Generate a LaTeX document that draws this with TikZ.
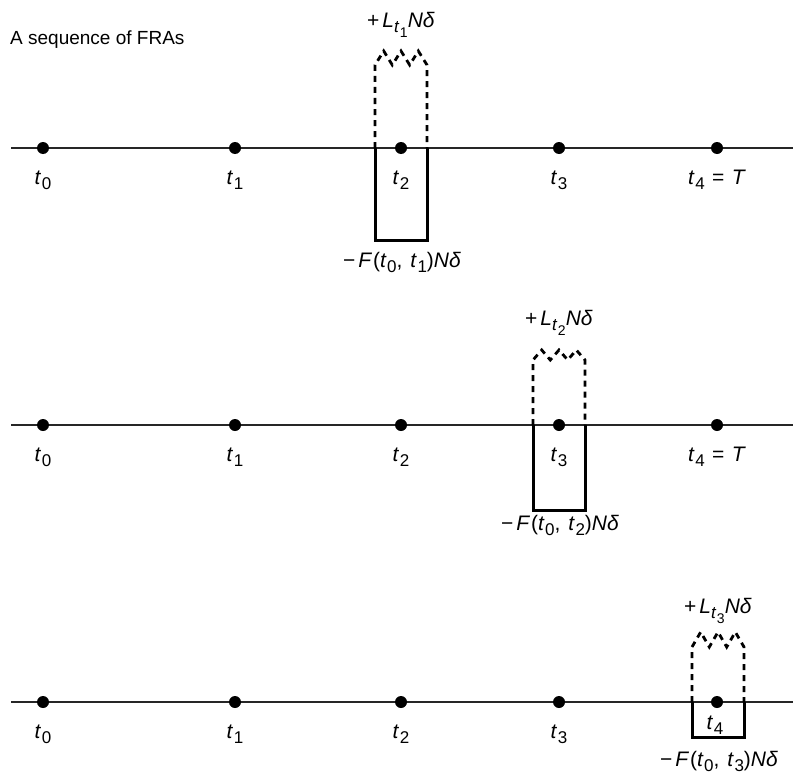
\documentclass[tikz,border=0pt]{standalone}
\usepackage{fontspec}
\setmainfont{Liberation Sans}
\usetikzlibrary{calc}
\newcommand\sub[2][17bp]{\raisebox{-5bp}{\fontsize{#1}{#1}\selectfont #2}}
\newcommand\tv[1]{\textit{t}\kern0.6bp\sub{#1}}
\tikzset{
  axis/.style={line width=1.5bp,black!85},
  dot/.style={circle,fill=black,minimum size=12bp,inner sep=0pt},
  lab/.style={font=\fontsize{21bp}{24bp}\selectfont,inner sep=0pt,anchor=base},
  ttl/.style={font=\fontsize{19bp}{22bp}\selectfont,inner sep=0pt,anchor=base west},
  pay/.style={line width=3bp,line join=miter},
  rec/.style={dash pattern=on 6bp off 5bp,line width=2.8bp},
}
\begin{document}
\begin{tikzpicture}[x=1bp,y=-1bp]
  \useasboundingbox (0,0) rectangle (801,777);
  \node[ttl](title) at (10,45){A sequence of FRAs};
  \foreach \r/\y in {1/148,2/425,3/702}{
    \coordinate(a\r) at (11,\y); \coordinate(b\r) at (793,\y);
    \draw[axis](a\r)--(b\r);
  }
  \foreach \r/\xc/\y/\e/\p/\bot/\lb/\fb in {1/401/148/83/97/240/28/267,2/559/425/65/75/510/325/530,3/718/702/55/70/737/613/766}{
    \draw[rec](\xc-26,\y)--(\xc-26,\y-\e)--(\xc-17.3,\y-\p)--(\xc-8.7,\y-\e)--(\xc,\y-\p)
      --(\xc+8.7,\y-\e)--(\xc+17.3,\y-\p)--(\xc+26,\y-\e)--(\xc+26,\y);
    \draw[pay](\xc-26,\y)--(\xc-26,\bot)--(\xc+26,\bot)--(\xc+26,\y);
    \node[lab](L\r) at (\xc,\lb){+\hspace{3bp}\textit{L}\sub{\textit{t}\kern0.5bp\sub[14bp]{\r}}\textit{N}\textit{δ}};
    \node[lab](F\r) at (\xc+1,\fb){−\hspace{3bp}\textit{F}\kern1bp(\tv{0}, \hspace{2bp}\tv{\r})\textit{N}\textit{δ}};
  }
  \foreach \r/\y in {1/148,2/425,3/702}{
    \foreach \i/\x in {0/43,1/235,2/401,3/559,4/717}
      {\node[dot](d\r\i) at (\x,\y){};}
    \foreach \i/\x in {0/43,1/235,2/401,3/559}
      {\node[lab](l\r\i) at (\x,\y+36){\tv{\i}};}
  }
  \node[lab](l14) at (717,184){\tv{4}\hspace{1.5bp} = \hspace{1.5bp}\textit{T}};
  \node[lab](l24) at (717,461){\tv{4}\hspace{1.5bp} = \hspace{1.5bp}\textit{T}};
  \node[lab](l34) at (715,729){\tv{4}};
\end{tikzpicture}
\end{document}
